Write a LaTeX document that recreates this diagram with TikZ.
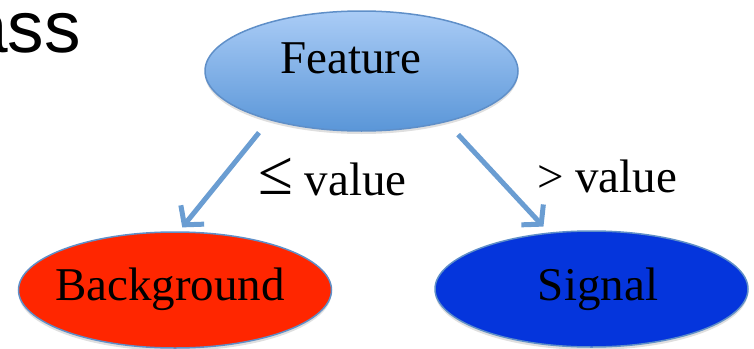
\documentclass[tikz,border=0pt]{standalone}
\usepackage{fontspec}
\usepackage{graphicx}
\setmainfont{Liberation Serif}
\newfontfamily\headfont{Liberation Sans}
\usetikzlibrary{shapes.geometric,arrows.meta,shadows}
\definecolor{featTop}{HTML}{AACCF6}
\definecolor{featBot}{HTML}{5A96D8}
\definecolor{edgeBlue}{HTML}{5F8FC8}
\definecolor{arrBlue}{HTML}{6A9DD2}
\definecolor{bgRed}{HTML}{FF2600}
\definecolor{sigBlue}{HTML}{0535DC}
\tikzset{
  ell/.style={ellipse, draw=edgeBlue, line width=1.5pt, minimum width=313pt, minimum height=120pt, inner sep=0pt,
    drop shadow={opacity=0.25, shadow xshift=0pt, shadow yshift=-3pt}},
  txt/.style={font=\fontsize{47}{50}\selectfont, anchor=base, inner sep=0pt},
  arr/.style={draw=arrBlue, line width=5pt, -{Straight Barb[length=13pt,width=30pt]}}
}
\begin{document}
\begin{tikzpicture}[x=1pt,y=-1pt]
\useasboundingbox (0,0) rectangle (754,348);
% partial heading
\node[anchor=base west, inner sep=0pt, font=\headfont\fontsize{73}{76}\selectfont] (hd) at (-33,52) {ass};
% nodes
\node[ell, top color=featTop, bottom color=featBot] (F) at (361.5,71) {};
\node[ell, fill=bgRed, minimum height=116pt] (B) at (175,290) {};
\node[ell, fill=sigBlue, minimum height=116pt] (S) at (591.5,289) {};
\node[txt] (Ft) at (351,73) {Feature};
\node[txt] (Bt) at (170,300) {Background};
\node[txt] (St) at (598,300) {Signal};
% connectors
\draw[arr, shorten <=16pt, shorten >=5pt] (F.208.1) -- (B.86.3);
\draw[arr, shorten <=17pt, shorten >=8pt] (F.329.6) -- (S.127.6);
% edge labels
\node[txt, anchor=base west] (l1) at (258,195) {\raisebox{1pt}{\scalebox{1.35}{≤}} value};
\node[txt, anchor=base west] (l2) at (537,192) {> value};
\end{tikzpicture}
\end{document}
